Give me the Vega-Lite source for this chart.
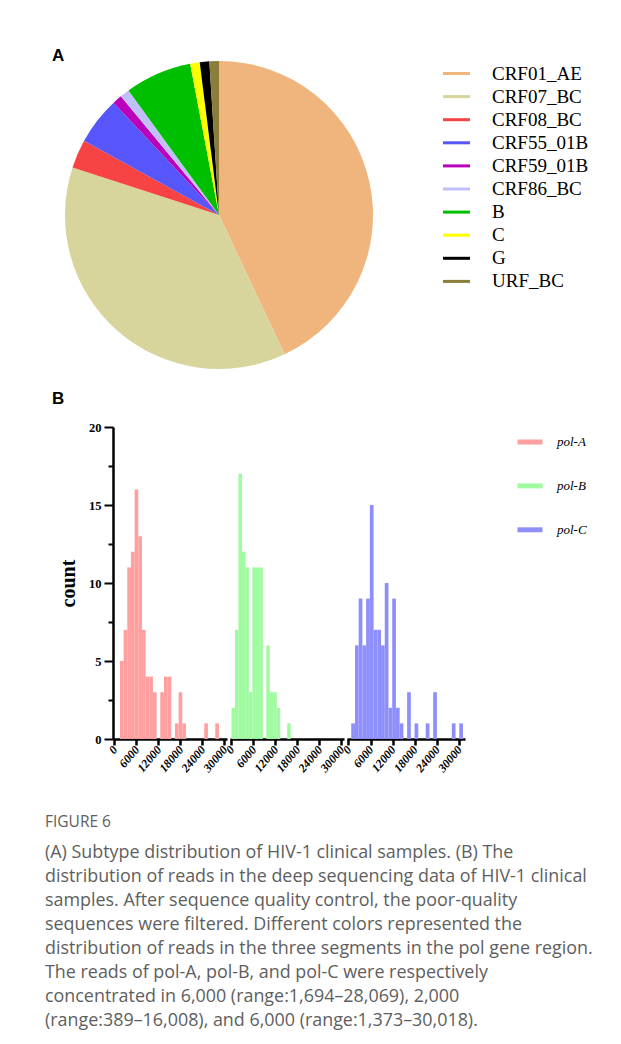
{
  "$schema": "https://vega.github.io/schema/vega-lite/v6.json",
  "background": "white",
  "padding": {"left": 45, "top": 47, "right": 0, "bottom": 0},
  "bounds": "flush",
  "spacing": 58,
  "config": {"view": {"stroke": null}},
  "resolve": {"scale": {"color": "independent"}},
  "vconcat": [
    {
      "width": 348,
      "height": 308,
      "title": {"text": "A", "anchor": "start", "font": "Liberation Sans", "fontSize": 17, "fontWeight": "bold", "color": "black", "baseline": "alphabetic", "offset": 0, "dx": 7, "dy": 17},
      "data": {"values": [
        {"subtype": "CRF01_AE", "n": 43, "rank": 1},
        {"subtype": "CRF07_BC", "n": 37, "rank": 2},
        {"subtype": "CRF08_BC", "n": 3, "rank": 3},
        {"subtype": "CRF55_01B", "n": 5, "rank": 4},
        {"subtype": "CRF59_01B", "n": 1, "rank": 5},
        {"subtype": "CRF86_BC", "n": 1, "rank": 6},
        {"subtype": "B", "n": 7, "rank": 7},
        {"subtype": "C", "n": 1, "rank": 8},
        {"subtype": "G", "n": 1, "rank": 9},
        {"subtype": "URF_BC", "n": 1, "rank": 10}
      ]},
      "mark": {"type": "arc", "outerRadius": 154},
      "encoding": {
        "theta": {"field": "n", "type": "quantitative", "stack": true},
        "order": {"field": "rank", "type": "quantitative"},
        "color": {
          "field": "subtype", "type": "nominal",
          "scale": {
            "domain": ["CRF01_AE", "CRF07_BC", "CRF08_BC", "CRF55_01B", "CRF59_01B", "CRF86_BC", "B", "C", "G", "URF_BC"],
            "range": ["#f0b57d", "#d7d59c", "#f74343", "#5656fb", "#bb00bb", "#c0c0f8", "#00bf00", "#ffff00", "#000000", "#8b7d3a"]
          },
          "legend": {
            "orient": "none", "legendX": 402, "legendY": 3, "title": null,
            "symbolType": "M-4.5,-0.5H4.5V0.5H-4.5Z", "symbolSize": 36, "symbolStrokeWidth": 0,
            "labelFont": "Liberation Serif", "labelFontSize": 19, "labelColor": "black",
            "labelOffset": 26, "rowPadding": 3.1, "padding": 0
          }
        }
      }
    },
    {
      "bounds": "flush",
      "spacing": 3,
      "hconcat": [
        {
          "width": 64.5,
          "height": 312,
          "title": {"text": "B", "anchor": "start", "font": "Liberation Sans", "fontSize": 17, "fontWeight": "bold", "color": "black", "baseline": "alphabetic", "offset": 6, "dx": 7},
          "data": {"values": []},
          "mark": "text",
          "encoding": {}
        },
        {
          "width": 114,
          "height": 312,
          "data": {"values": [
            {"seg": "pol-A", "x0": 1500, "x1": 2500, "count": 5},
            {"seg": "pol-A", "x0": 2500, "x1": 3500, "count": 7},
            {"seg": "pol-A", "x0": 3500, "x1": 4500, "count": 11},
            {"seg": "pol-A", "x0": 4500, "x1": 5500, "count": 12},
            {"seg": "pol-A", "x0": 5500, "x1": 6500, "count": 16},
            {"seg": "pol-A", "x0": 6500, "x1": 7500, "count": 13},
            {"seg": "pol-A", "x0": 7500, "x1": 8500, "count": 7},
            {"seg": "pol-A", "x0": 8500, "x1": 9500, "count": 4},
            {"seg": "pol-A", "x0": 9500, "x1": 10500, "count": 4},
            {"seg": "pol-A", "x0": 10500, "x1": 11500, "count": 3},
            {"seg": "pol-A", "x0": 12500, "x1": 13500, "count": 3},
            {"seg": "pol-A", "x0": 13500, "x1": 14500, "count": 4},
            {"seg": "pol-A", "x0": 14500, "x1": 15500, "count": 4},
            {"seg": "pol-A", "x0": 16500, "x1": 17500, "count": 1},
            {"seg": "pol-A", "x0": 17500, "x1": 18500, "count": 3},
            {"seg": "pol-A", "x0": 18500, "x1": 19500, "count": 1},
            {"seg": "pol-A", "x0": 24500, "x1": 25500, "count": 1},
            {"seg": "pol-A", "x0": 27500, "x1": 28500, "count": 1}
          ]},
          "mark": {"type": "rect"},
          "encoding": {
            "x": {"field": "x0", "type": "quantitative", "scale": {"domain": [-400, 30700], "nice": false, "zero": false},
              "axis": {"values": [0, 6000, 12000, 18000, 24000, 30000], "format": "d", "labelAngle": -50, "labelAlign": "right", "labelBaseline": "middle", "labelFont": "Liberation Serif", "labelFontStyle": "italic", "labelFontWeight": "bold", "labelFontSize": 12, "labelColor": "black", "labelPadding": 2, "labelFlush": false, "labelOverlap": false, "tickSize": 6, "tickWidth": 2.5, "tickColor": "black", "domainColor": "black", "domainWidth": 2.5, "grid": false, "title": null}},
            "x2": {"field": "x1"},
            "y": {"field": "count", "type": "quantitative", "scale": {"domain": [0, 20], "nice": false},
              "axis": {"values": [0, 2.5, 5, 7.5, 10, 12.5, 15, 17.5, 20], "labelExpr": "datum.value % 5 === 0 ? datum.label : ''", "tickSize": {"condition": {"test": "datum.value % 5 === 0", "value": 9}, "value": 5}, "tickWidth": 2, "tickColor": "black", "domainColor": "black", "domainWidth": 2.5, "labelFont": "Liberation Serif", "labelFontWeight": "bold", "labelFontSize": 12.5, "labelColor": "black", "labelPadding": 3, "grid": false, "title": "count", "titleFont": "Liberation Serif", "titleFontWeight": "bold", "titleFontSize": 20, "titleColor": "black", "titlePadding": 10}},
            "y2": {"datum": 0},
            "color": {"field": "seg", "type": "nominal",
              "scale": {"domain": ["pol-A", "pol-B", "pol-C"], "range": ["#ff9f9f", "#9ffb9f", "#8f8ffb"]},
              "legend": {"orient": "right", "offset": 50.2, "padding": 8.5, "title": null, "symbolType": "M-2.5,-0.5H2.5V0.5H-2.5Z", "symbolSize": 100, "symbolStrokeWidth": 0, "labelFont": "Liberation Serif", "labelFontStyle": "italic", "labelFontSize": 13, "labelColor": "black", "labelOffset": 20.5, "rowPadding": 29.9}}
          }
        },
        {
          "width": 114,
          "height": 312,
          "data": {"values": [
            {"seg": "pol-B", "x0": 0, "x1": 950, "count": 2},
            {"seg": "pol-B", "x0": 950, "x1": 1900, "count": 7},
            {"seg": "pol-B", "x0": 1900, "x1": 2850, "count": 17},
            {"seg": "pol-B", "x0": 2850, "x1": 3800, "count": 12},
            {"seg": "pol-B", "x0": 3800, "x1": 4750, "count": 11},
            {"seg": "pol-B", "x0": 4750, "x1": 5700, "count": 3},
            {"seg": "pol-B", "x0": 5700, "x1": 6650, "count": 11},
            {"seg": "pol-B", "x0": 6650, "x1": 7600, "count": 11},
            {"seg": "pol-B", "x0": 7600, "x1": 8550, "count": 11},
            {"seg": "pol-B", "x0": 9500, "x1": 10450, "count": 6},
            {"seg": "pol-B", "x0": 10450, "x1": 11400, "count": 3},
            {"seg": "pol-B", "x0": 11400, "x1": 12350, "count": 3},
            {"seg": "pol-B", "x0": 12350, "x1": 13300, "count": 2},
            {"seg": "pol-B", "x0": 15200, "x1": 16150, "count": 1}
          ]},
          "mark": {"type": "rect"},
          "encoding": {
            "x": {"field": "x0", "type": "quantitative", "scale": {"domain": [-400, 30700], "nice": false, "zero": false},
              "axis": {"values": [0, 6000, 12000, 18000, 24000, 30000], "format": "d", "labelAngle": -50, "labelAlign": "right", "labelBaseline": "middle", "labelFont": "Liberation Serif", "labelFontStyle": "italic", "labelFontWeight": "bold", "labelFontSize": 12, "labelColor": "black", "labelPadding": 2, "labelFlush": false, "labelOverlap": false, "tickSize": 6, "tickWidth": 2.5, "tickColor": "black", "domainColor": "black", "domainWidth": 2.5, "grid": false, "title": null}},
            "x2": {"field": "x1"},
            "y": {"field": "count", "type": "quantitative", "scale": {"domain": [0, 20], "nice": false}, "axis": null},
            "y2": {"datum": 0},
            "color": {"field": "seg", "type": "nominal",
              "scale": {"domain": ["pol-A", "pol-B", "pol-C"], "range": ["#ff9f9f", "#9ffb9f", "#8f8ffb"]},
              "legend": {"orient": "right", "offset": 50.2, "padding": 8.5, "title": null, "symbolType": "M-2.5,-0.5H2.5V0.5H-2.5Z", "symbolSize": 100, "symbolStrokeWidth": 0, "labelFont": "Liberation Serif", "labelFontStyle": "italic", "labelFontSize": 13, "labelColor": "black", "labelOffset": 20.5, "rowPadding": 29.9}}
          }
        },
        {
          "width": 118,
          "height": 312,
          "data": {"values": [
            {"seg": "pol-C", "x0": 750, "x1": 1760, "count": 1},
            {"seg": "pol-C", "x0": 1760, "x1": 2770, "count": 6},
            {"seg": "pol-C", "x0": 2770, "x1": 3780, "count": 9},
            {"seg": "pol-C", "x0": 3780, "x1": 4790, "count": 6},
            {"seg": "pol-C", "x0": 4790, "x1": 5800, "count": 9},
            {"seg": "pol-C", "x0": 5800, "x1": 6810, "count": 15},
            {"seg": "pol-C", "x0": 6810, "x1": 7820, "count": 7},
            {"seg": "pol-C", "x0": 7820, "x1": 8830, "count": 7},
            {"seg": "pol-C", "x0": 8830, "x1": 9840, "count": 6},
            {"seg": "pol-C", "x0": 9840, "x1": 10850, "count": 10},
            {"seg": "pol-C", "x0": 10850, "x1": 11860, "count": 2},
            {"seg": "pol-C", "x0": 11860, "x1": 12870, "count": 9},
            {"seg": "pol-C", "x0": 12870, "x1": 13880, "count": 2},
            {"seg": "pol-C", "x0": 13880, "x1": 14890, "count": 1},
            {"seg": "pol-C", "x0": 15900, "x1": 16910, "count": 3},
            {"seg": "pol-C", "x0": 17920, "x1": 18930, "count": 1},
            {"seg": "pol-C", "x0": 20950, "x1": 21960, "count": 1},
            {"seg": "pol-C", "x0": 22970, "x1": 23980, "count": 3},
            {"seg": "pol-C", "x0": 28020, "x1": 29030, "count": 1},
            {"seg": "pol-C", "x0": 30040, "x1": 31050, "count": 1}
          ]},
          "mark": {"type": "rect"},
          "encoding": {
            "x": {"field": "x0", "type": "quantitative", "scale": {"domain": [-400, 31600], "nice": false, "zero": false},
              "axis": {"values": [0, 6000, 12000, 18000, 24000, 30000], "format": "d", "labelAngle": -50, "labelAlign": "right", "labelBaseline": "middle", "labelFont": "Liberation Serif", "labelFontStyle": "italic", "labelFontWeight": "bold", "labelFontSize": 12, "labelColor": "black", "labelPadding": 2, "labelFlush": false, "labelOverlap": false, "tickSize": 6, "tickWidth": 2.5, "tickColor": "black", "domainColor": "black", "domainWidth": 2.5, "grid": false, "title": null}},
            "x2": {"field": "x1"},
            "y": {"field": "count", "type": "quantitative", "scale": {"domain": [0, 20], "nice": false}, "axis": null},
            "y2": {"datum": 0},
            "color": {"field": "seg", "type": "nominal",
              "scale": {"domain": ["pol-A", "pol-B", "pol-C"], "range": ["#ff9f9f", "#9ffb9f", "#8f8ffb"]},
              "legend": {"orient": "right", "offset": 50.2, "padding": 8.5, "title": null, "symbolType": "M-2.5,-0.5H2.5V0.5H-2.5Z", "symbolSize": 100, "symbolStrokeWidth": 0, "labelFont": "Liberation Serif", "labelFontStyle": "italic", "labelFontSize": 13, "labelColor": "black", "labelOffset": 20.5, "rowPadding": 29.9}}
          }
        }
      ]
    },
    {
      "width": 560,
      "height": 546,
      "layer": [
        {
          "data": {"values": [{"line": 0, "text": "FIGURE 6"}]},
          "mark": {"type": "text", "align": "left", "baseline": "middle", "font": "Open Sans", "fontSize": 15.5, "color": "#5e5e5e", "dy": -7}
        },
        {
          "data": {"values": [
            {"line": 1, "text": "(A) Subtype distribution of HIV-1 clinical samples. (B) The"},
            {"line": 2, "text": "distribution of reads in the deep sequencing data of HIV-1 clinical"},
            {"line": 3, "text": "samples. After sequence quality control, the poor-quality"},
            {"line": 4, "text": "sequences were filtered. Different colors represented the"},
            {"line": 5, "text": "distribution of reads in the three segments in the pol gene region."},
            {"line": 6, "text": "The reads of pol-A, pol-B, and pol-C were respectively"},
            {"line": 7, "text": "concentrated in 6,000 (range:1,694–28,069), 2,000"},
            {"line": 8, "text": "(range:389–16,008), and 6,000 (range:1,373–30,018)."}
          ]},
          "mark": {"type": "text", "align": "left", "baseline": "middle", "font": "Open Sans", "fontSize": 17.9, "color": "#5e5e5e"}
        }
      ],
      "encoding": {
        "y": {"field": "line", "type": "quantitative", "axis": null, "scale": {"domain": [-14.3333, 8.4167], "reverse": true, "nice": false, "zero": false}},
        "x": {"datum": 0, "type": "quantitative", "scale": {"domain": [0, 1]}, "axis": null},
        "text": {"field": "text"}
      }
    }
  ]
}
